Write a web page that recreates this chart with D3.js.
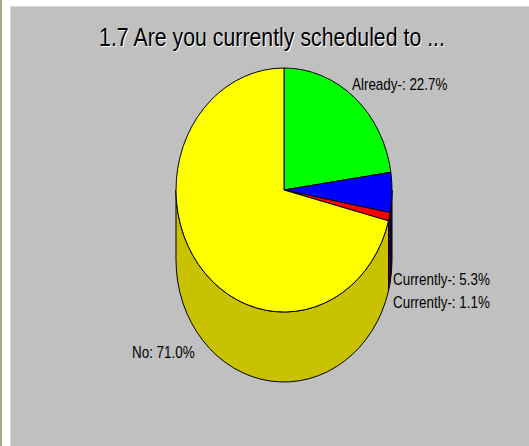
<!DOCTYPE html>
<html lang="en">
<head>
    <meta charset="UTF-8">
    <title>1.7 Are you currently scheduled to ...</title>
    <style>
        body { margin: 0; background: #fff; }
        svg { display: block; }
        .lbl {
            font-family: "Liberation Sans", Arial, sans-serif;
            font-size: 17px;
            fill: #000;
        }
        .title {
            font-family: "Liberation Sans", Arial, sans-serif;
            font-size: 26px;
        }
    </style>
</head>
<body>
    <svg width="529" height="446"></svg>
    <script src="https://cdn.jsdelivr.net/npm/d3@7"></script>
    <script>
        const categories = ["Already-", "Currently-", "Currently-", "No"];
        const percents = [22.7, 5.3, 1.1, 71.0];
        const topColors = ["#00ff00", "#0000ff", "#ff0000", "#ffff00"];
        const sideColors = ["#00a000", "#000090", "#900000", "#c8c200"];
        const titleText = "1.7 Are you currently scheduled to ...";

        const svg = d3.select("svg");

        // frame + grey panel
        svg.append("rect").attr("x", 0).attr("y", 0).attr("width", 2).attr("height", 446).attr("fill", "#a6a48c");
        svg.append("rect")
            .attr("x", 10.5).attr("y", 6.5).attr("width", 520).attr("height", 442)
            .attr("fill", "#c0c0c0").attr("stroke", "#dadada");

        // title with white drop shadow
        const titleG = svg.append("g").attr("transform", "translate(272,46) scale(0.82,1)");
        titleG.append("text").attr("class", "title").attr("x", 1).attr("y", 1)
            .attr("text-anchor", "middle").attr("fill", "#fff").text(titleText);
        titleG.append("text").attr("class", "title")
            .attr("text-anchor", "middle").attr("fill", "#000").text(titleText);

        const cx = 284, cy = 190, rx = 108, ry = 122, depth = 70;

        const data = categories.map((c, i) => ({ name: c, value: percents[i], i }));
        const arcs = d3.pie().sort(null).value(d => d.value)(data);

        const px = a => cx + rx * Math.sin(a);
        const py = a => cy - ry * Math.cos(a);

        // side walls (front half only: PI/2 .. 3PI/2)
        const sides = svg.append("g");
        arcs.forEach(a => {
            const b0 = Math.max(a.startAngle, Math.PI / 2);
            const b1 = Math.min(a.endAngle, 3 * Math.PI / 2);
            if (b1 <= b0) return;
            const large = (b1 - b0) > Math.PI ? 1 : 0;
            const d = `M${px(b0)},${py(b0)} A${rx},${ry} 0 ${large} 1 ${px(b1)},${py(b1)} ` +
                `L${px(b1)},${py(b1) + depth} A${rx},${ry} 0 ${large} 0 ${px(b0)},${py(b0) + depth} Z`;
            sides.append("path").attr("d", d)
                .attr("fill", sideColors[a.data.i])
                .attr("stroke", "#000").attr("stroke-width", 1).attr("stroke-linejoin", "round");
        });

        // top face
        const arc = d3.arc().innerRadius(0).outerRadius(ry);
        const face = svg.append("g").attr("transform", `translate(${cx},${cy}) scale(${rx / ry},1)`);
        face.selectAll("path").data(arcs).join("path")
            .attr("d", arc)
            .attr("fill", d => topColors[d.data.i])
            .attr("stroke", "#000").attr("stroke-width", 1)
            .attr("vector-effect", "non-scaling-stroke");

        // labels (layout offsets from pie centre)
        const labelPos = [[68, -100], [109, 95], [109, 118], [-152, 168]];
        const fmt = d3.format(".1f");
        arcs.forEach((a, k) => {
            const [dx, dy] = labelPos[k];
            const t = svg.append("g").attr("transform", `translate(${cx + dx},${cy + dy}) scale(0.79,1)`);
            t.append("text").attr("class", "lbl")
                .text(`${a.data.name}: ${fmt(a.data.value)}%`);
        });
    </script>
</body>
</html>
